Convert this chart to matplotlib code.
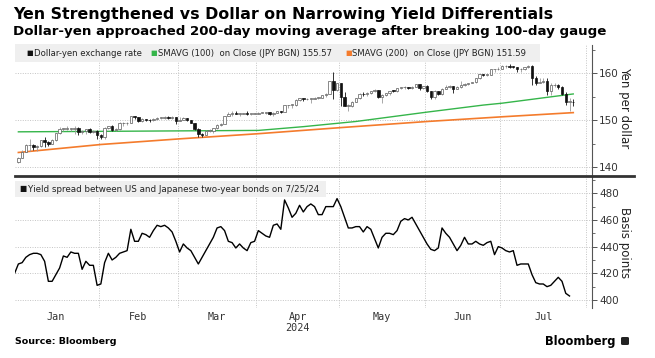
import numpy as np
import pandas as pd
import matplotlib
matplotlib.use('Agg')
import matplotlib.pyplot as plt
from matplotlib.patches import Rectangle, FancyBboxPatch
from matplotlib.lines import Line2D

# trading days Jan 1 - Jul 31 2024 (x axis is in trading days)
bdays = pd.bdate_range('2024-01-01', '2024-07-31')

# Dollar-yen daily candles, Jan 2 - Jul 26
opens = [141.0, 142.0, 143.3, 144.6, 144.6, 144.2, 144.4, 145.7, 145.3, 144.9, 145.8, 147.2, 148.1, 148.1, 148.1, 148.1, 148.4, 147.5, 147.6, 148.2, 147.5, 147.6,
         146.9, 146.4, 148.4, 148.7, 147.9, 148.0, 149.3, 149.3, 149.4, 150.8, 150.6, 149.9, 150.2, 150.1, 150.0, 150.3, 150.5, 150.5, 150.7, 150.5, 150.6,
         149.9, 150.1, 150.5, 150.0, 149.4, 148.0, 147.1, 146.9, 147.7, 147.7, 148.3, 149.0, 149.1, 150.9, 151.3, 151.6, 151.4, 151.4, 151.5, 151.3, 151.3,
         151.3, 151.6, 151.6, 151.7, 151.3, 151.6, 151.9, 151.8, 153.2, 153.3, 153.3, 154.2, 154.7, 154.4, 154.6, 154.6, 154.8, 154.8, 155.3, 155.6, 158.3, 156.4,
         157.8, 155.0, 153.0, 153.0, 153.9, 154.7, 155.6, 155.5, 155.8, 156.2, 156.4, 154.9, 155.4, 155.7, 156.3, 156.2, 156.8, 157.0, 157.0, 156.9, 157.1, 157.6, 156.8,
         157.3, 156.1, 154.9, 156.1, 155.6, 156.7, 157.0, 157.2, 156.7, 157.1, 157.4, 157.7, 157.9, 158.1, 158.9, 159.8, 159.7, 159.7, 160.8, 160.8,
         160.9, 161.5, 161.5, 161.4, 161.3, 160.8, 160.8, 161.3, 161.6, 158.9, 157.9, 158.1, 158.3, 156.2, 157.4, 157.5, 157.0, 155.6, 153.9, 153.9]
highs = [142.2, 143.7, 144.9, 146.0, 144.9, 144.6, 145.7, 146.4, 145.6, 146.0, 147.3, 148.5, 148.3, 148.8, 148.4, 148.7, 148.5, 147.8, 148.2, 148.3, 147.9, 147.9,
         147.1, 148.6, 148.8, 148.9, 148.3, 149.6, 149.5, 149.5, 150.9, 150.9, 150.6, 150.5, 150.2, 150.3, 150.4, 150.6, 150.6, 150.8, 150.8, 150.8, 150.7,
         150.7, 150.7, 150.5, 150.1, 149.4, 148.3, 147.3, 147.9, 148.2, 148.4, 149.2, 149.4, 150.9, 151.8, 151.9, 151.9, 151.6, 151.6, 151.97, 151.4, 151.5,
         151.8, 151.8, 151.8, 151.8, 151.7, 152.0, 151.9, 153.2, 153.3, 153.4, 154.4, 154.8, 154.8, 154.7, 154.7, 154.9, 154.9, 155.4, 155.7, 158.4, 160.2, 157.9,
         158.0, 155.9, 153.5, 154.0, 154.8, 155.7, 155.9, 155.9, 156.2, 156.7, 156.5, 155.5, 155.8, 156.3, 156.5, 156.8, 157.1, 157.2, 157.1, 157.2, 157.7, 157.6, 157.3,
         157.4, 156.2, 156.4, 156.3, 156.9, 157.4, 157.4, 157.3, 157.2, 158.3, 157.8, 158.0, 158.2, 159.0, 159.9, 159.9, 159.8, 160.9, 160.9, 161.3,
         161.7, 161.7, 161.95, 161.5, 161.4, 161.0, 161.4, 161.8, 161.8, 159.4, 158.9, 158.9, 158.9, 157.9, 157.8, 157.7, 157.3, 155.9, 154.7, 154.5]
lows = [140.8, 141.9, 143.2, 143.4, 143.7, 143.4, 144.3, 144.3, 144.4, 144.9, 145.6, 147.0, 147.6, 147.8, 147.6, 147.0, 146.8, 147.0, 147.1, 147.2, 147.2, 146.0,
        145.9, 146.0, 148.2, 147.6, 147.6, 147.9, 148.8, 148.9, 149.3, 150.3, 149.6, 149.6, 149.7, 149.6, 149.8, 150.1, 150.3, 150.3, 150.2, 150.2, 149.2,
        149.8, 150.0, 149.7, 149.4, 147.8, 146.5, 146.5, 146.9, 147.5, 147.3, 148.2, 148.8, 149.1, 150.8, 150.8, 151.3, 150.8, 151.2, 151.0, 151.1, 151.2,
        151.2, 151.5, 151.4, 151.0, 150.8, 151.6, 151.6, 151.7, 152.6, 152.6, 153.1, 154.1, 154.1, 154.3, 153.6, 154.6, 154.6, 154.8, 155.0, 155.5, 154.5, 156.2,
        153.0, 153.0, 151.9, 152.8, 153.8, 154.6, 155.2, 155.1, 155.6, 156.0, 154.7, 153.6, 155.1, 155.4, 155.9, 156.0, 156.6, 156.7, 156.6, 156.7, 157.0, 156.4, 156.6,
        155.9, 154.5, 154.6, 155.4, 155.4, 156.6, 156.8, 155.7, 156.6, 156.8, 157.2, 157.5, 157.8, 157.9, 158.8, 159.3, 159.4, 159.7, 160.3, 160.6,
        160.8, 161.2, 161.1, 161.0, 160.3, 160.3, 160.7, 161.2, 157.4, 157.4, 157.8, 158.0, 155.4, 155.4, 157.0, 156.7, 155.3, 153.2, 151.9, 153.1]
closes = [142.0, 143.3, 144.6, 144.6, 144.2, 144.4, 145.7, 145.3, 144.9, 145.8, 147.2, 148.1, 148.1, 148.1, 148.1, 148.4, 147.5, 147.6, 148.2, 147.5, 147.6, 146.9,
          146.4, 148.4, 148.7, 147.9, 148.0, 149.3, 149.3, 149.4, 150.8, 150.6, 149.9, 150.2, 150.1, 150.0, 150.3, 150.5, 150.5, 150.7, 150.5, 150.6, 149.9,
          150.1, 150.5, 150.0, 149.4, 148.0, 147.1, 146.9, 147.7, 147.7, 148.3, 149.0, 149.1, 150.9, 151.3, 151.6, 151.4, 151.4, 151.5, 151.3, 151.3, 151.3,
          151.6, 151.6, 151.7, 151.3, 151.6, 151.9, 151.8, 153.2, 153.3, 153.3, 154.2, 154.7, 154.4, 154.6, 154.6, 154.8, 154.8, 155.3, 155.6, 158.3, 156.4, 157.8,
          155.0, 153.0, 153.0, 153.9, 154.7, 155.6, 155.5, 155.8, 156.2, 156.4, 154.9, 155.4, 155.7, 156.3, 156.2, 156.8, 157.0, 157.0, 156.9, 157.1, 157.6, 156.8, 157.3,
          156.1, 154.9, 156.1, 155.6, 156.7, 157.0, 157.2, 156.7, 157.1, 157.4, 157.7, 157.9, 158.1, 158.9, 159.8, 159.7, 159.7, 160.8, 160.8, 160.9,
          161.5, 161.5, 161.4, 161.3, 160.8, 160.8, 161.3, 161.6, 158.9, 157.9, 158.1, 158.3, 156.2, 157.4, 157.5, 157.0, 155.6, 153.9, 153.9, 153.8]

# moving averages
sma100_dates = ['2024-01-02', '2024-02-01', '2024-03-01', '2024-04-01', '2024-04-17', '2024-05-07',
                '2024-06-03', '2024-06-24', '2024-07-01', '2024-07-26']
sma100 = [147.5, 147.6, 147.7, 147.8, 148.6, 149.7, 151.7, 153.2, 153.6, 155.57]
sma200_dates = ['2024-01-02', '2024-02-01', '2024-03-01', '2024-04-01', '2024-05-01',
                '2024-06-03', '2024-07-01', '2024-07-26']
sma200 = [143.1, 144.8, 146.0, 147.1, 148.4, 149.7, 150.7, 151.59]

# US-Japan 2y yield spread (bp), Jan 1 - Jul 25
spread = [420, 427, 428, 432, 434, 435, 435, 434, 429, 414, 414, 419, 424, 433, 432, 436, 435, 435, 423, 429, 426, 426, 411,
          412, 428, 435, 430, 432, 435, 436, 437, 453, 444, 444, 450, 449, 447, 452, 456, 455, 456, 454, 451, 444,
          436, 442, 439, 437, 432, 427, 432, 437, 442, 447, 454, 455, 452, 444, 443, 439, 442, 439, 437, 443, 444,
          452, 450, 448, 447, 456, 457, 453, 475, 469, 462, 465, 471, 466, 470, 472, 470, 464, 464, 470, 470, 470, 476,
          470, 462, 454, 454, 455, 455, 451, 455, 453, 446, 439, 447, 450, 450, 449, 452, 459, 461, 460, 462, 457, 452, 447,
          442, 438, 437, 439, 454, 450, 447, 442, 437, 441, 447, 442, 442, 444, 442, 441, 443, 444, 434, 440,
          439, 437, 436, 437, 426, 427, 427, 427, 419, 413, 412, 412, 410, 411, 414, 417, 414, 405, 403]

month_names = ['Jan', 'Feb', 'Mar', 'Apr', 'May', 'Jun', 'Jul']

W, H = 655, 358
def fx(px):
    return px / W
def fy(py):
    return 1 - py / H

fig = plt.figure(figsize=(W / 100, H / 100), dpi=100)
ax1 = fig.add_axes([fx(15), fy(175), fx(592) - fx(15), fy(45) - fy(175)])
ax2 = fig.add_axes([fx(15), fy(308), fx(592) - fx(15), fy(177) - fy(308)])

pos = np.arange(len(bdays))
months = bdays.month
bounds = [pos[months == m][0] - 0.5 for m in range(2, 8)] + [pos[-1] + 0.5]
mids = [pos[months == m].mean() for m in range(1, 8)]

grid_c = '#c4c4c4'
for ax in (ax1, ax2):
    ax.set_xlim(0.1, 154.0)
    ax.set_xticks(bounds, minor=True)
    ax.set_xticks(mids)
    ax.tick_params(axis='x', which='both', length=0)
    ax.grid(axis='x', which='minor', linestyle=(0, (1, 1.5)), color=grid_c, lw=0.7)
    ax.grid(axis='y', which='major', linestyle=(0, (1, 1.5)), color=grid_c, lw=0.7)
    ax.yaxis.tick_right()
    for s in ['left', 'top', 'bottom']:
        ax.spines[s].set_visible(False)
    ax.spines['right'].set_color('#555555')
    ax.spines['right'].set_linewidth(0.8)
    ax.tick_params(axis='y', which='major', length=3.5, width=0.7, color='#555555',
                   labelsize=7.5, labelcolor='#333333', pad=1.5)
    ax.tick_params(axis='y', which='minor', length=2, width=0.6, color='#555555')
    ax.set_axisbelow(True)

# top panel: candles
cx = np.array([bdays.get_loc(d) for d in bdays[1:1 + len(closes)]])
o = np.array(opens)
c = np.array(closes)
hi = np.array(highs)
lo = np.array(lows)
up = c >= o
body_lo = np.minimum(o, c)
body_h = np.maximum(np.abs(c - o), 0.12)
ax1.vlines(cx[up], lo[up], hi[up], color='#9a9a9a', lw=0.6, zorder=3)
ax1.vlines(cx[~up], lo[~up], hi[~up], color='#111111', lw=0.6, zorder=3)
ax1.bar(cx[up], body_h[up], bottom=body_lo[up], width=0.65, color='white',
        edgecolor='#5a5a5a', linewidth=0.5, zorder=4)
ax1.bar(cx[~up], body_h[~up], bottom=body_lo[~up], width=0.65, color='#111111',
        edgecolor='#111111', linewidth=0.5, zorder=4)

x100 = [bdays.get_loc(pd.Timestamp(d)) for d in sma100_dates]
x200 = [bdays.get_loc(pd.Timestamp(d)) for d in sma200_dates]
ax1.plot(x100, sma100, color='#35b54a', lw=1.0, zorder=2)
ax1.plot(x200, sma200, color='#f47b2c', lw=1.2, zorder=2)

ax1.set_ylim(138.3, 166.0)
ax1.set_yticks([140, 150, 160])
ax1.set_yticks([145, 155, 165], minor=True)
ax1.set_xticklabels([])

# bottom panel: yield spread
sx = np.arange(len(spread))
ax2.plot(sx, spread, color='black', lw=1.0, zorder=3)
ax2.set_ylim(394.0, 492.2)
ax2.set_yticks([400, 420, 440, 460, 480])
ax2.set_yticks([410, 430, 450, 470, 490], minor=True)
ax2.set_xticklabels(month_names, fontfamily='DejaVu Sans Mono', fontsize=7.3, color='#333333')
ax2.tick_params(axis='x', pad=3)

# legends
fig.add_artist(Rectangle((fx(15), fy(62)), fx(540) - fx(15), fy(44) - fy(62),
                         transform=fig.transFigure, facecolor='#efefef', edgecolor='none', zorder=5))
fig.add_artist(Rectangle((fx(15), fy(197)), fx(326) - fx(15), fy(181) - fy(197),
                         transform=fig.transFigure, facecolor='#efefef', edgecolor='none', zorder=5))
leg = [(26, '#111111', 'Dollar-yen exchange rate'),
       (150, '#35b54a', 'SMAVG (100)  on Close (JPY BGN) 155.57'),
       (345, '#f47b2c', 'SMAVG (200)  on Close (JPY BGN) 151.59')]
for x0, col, lab in leg:
    fig.text(fx(x0), fy(53), '■', color=col, fontsize=5, va='center', ha='left', zorder=6)
    fig.text(fx(x0 + 7.5), fy(53), lab, color='#222222', fontsize=6.1, va='center', ha='left', zorder=6)
fig.text(fx(19), fy(189), '■', color='#111111', fontsize=5.5, va='center', ha='left', zorder=6)
fig.text(fx(27.5), fy(189), 'Yield spread between US and Japanese two-year bonds on 7/25/24',
         color='#222222', fontsize=6.3, va='center', ha='left', zorder=6)

# separator between panels
fig.add_artist(Line2D([fx(15), fx(634)], [fy(175.5), fy(175.5)], color='#333333', lw=2.0, zorder=6))

# axis titles
fig.text(fx(625), fy(108), 'Yen per dollar', rotation=270, fontsize=8.5, color='#222222',
         ha='center', va='center')
fig.text(fx(625), fy(243), 'Basis points', rotation=270, fontsize=8.5, color='#222222',
         ha='center', va='center')
fig.text(fx(mids[3] * 3.75 + 14.7), fy(328), '2024', fontfamily='DejaVu Sans Mono', fontsize=7.3,
         color='#333333', ha='center', va='center')

# titles and footer
fig.text(fx(13), fy(14), 'Yen Strengthened vs Dollar on Narrowing Yield Differentials',
         fontsize=11.4, fontweight='bold', ha='left', va='center')
fig.text(fx(13), fy(32), 'Dollar-yen approached 200-day moving average after breaking 100-day gauge',
         fontsize=9.6, fontweight='bold', ha='left', va='center')
fig.text(fx(15), fy(341), 'Source: Bloomberg', fontsize=6.8, fontweight='bold', ha='left', va='center')
fig.text(fx(616), fy(341), 'Bloomberg', fontsize=8.3, fontweight='bold', ha='right', va='center')
fig.add_artist(FancyBboxPatch((fx(621), fy(345)), fx(8), fy(337) - fy(345),
                              boxstyle='round,pad=0,rounding_size=0.003', transform=fig.transFigure,
                              facecolor='#222222', edgecolor='none'))

fig.savefig('out.png', dpi=100)
